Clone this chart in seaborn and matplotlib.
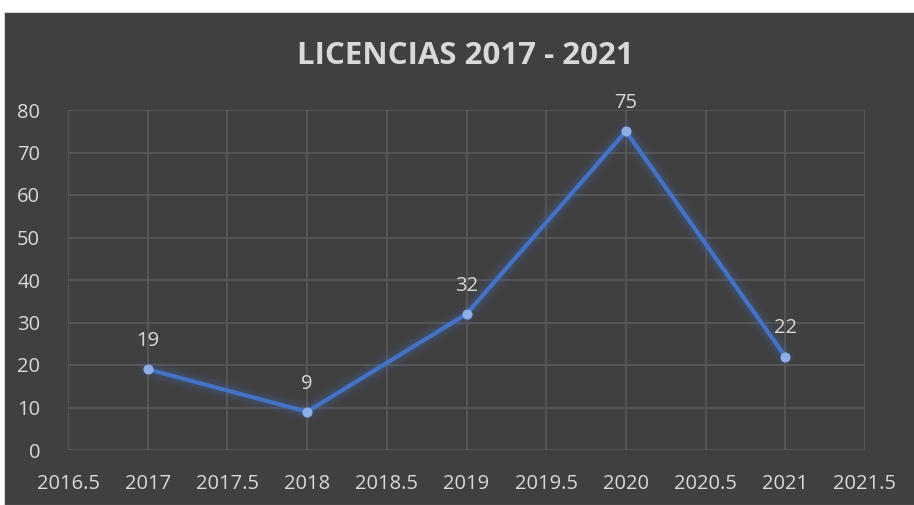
import matplotlib
matplotlib.use("Agg")
import matplotlib.pyplot as plt
import seaborn as sns
import pandas as pd
from matplotlib.patches import Rectangle

years = [2017, 2018, 2019, 2020, 2021]
licencias = [19, 9, 32, 75, 22]
x_ticks = [2016.5, 2017, 2017.5, 2018, 2018.5, 2019, 2019.5, 2020, 2020.5, 2021, 2021.5]
y_ticks = [0, 10, 20, 30, 40, 50, 60, 70, 80]
title = "LICENCIAS 2017 - 2021"

df = pd.DataFrame({"year": years, "licencias": licencias})

sns.set_theme(style="dark")
plt.rcParams["font.family"] = ["Open Sans", "DejaVu Sans"]

bg = "#404040"
txt = "#d9d9d9"
grid = "#5a5a5a"
blue = "#4472c4"

fig = plt.figure(figsize=(9.14, 5.05), dpi=100, facecolor="white")
fig.patches.append(Rectangle((4 / 914, 0), 1, (505 - 12) / 505, transform=fig.transFigure,
                             facecolor=bg, edgecolor="#d0d0d0", lw=0.8, zorder=-10))
ax = fig.add_axes([68 / 914, (505 - 450) / 505, (865 - 68) / 914, (450 - 110) / 505])
ax.set_facecolor(bg)

# glow
for lw, a in [(14, 0.06), (10, 0.08), (7, 0.12)]:
    ax.plot(df["year"], df["licencias"], color=blue, lw=lw, alpha=a, solid_capstyle="round", zorder=2)
sns.lineplot(data=df, x="year", y="licencias", ax=ax, color=blue, lw=3.0, zorder=3,
             marker="o", markersize=6.5, markerfacecolor="#8eaee6", markeredgecolor="#8eaee6")

for x, y in zip(years, licencias):
    ax.annotate(str(y), (x, y), xytext=(0, 13), textcoords="offset points",
                ha="center", va="bottom", color=txt, fontsize=14.5)

ax.set_xlim(2016.5, 2021.5)
ax.set_ylim(0, 80)
ax.set_xticks(x_ticks)
ax.set_xticklabels([f"{t:g}" for t in x_ticks])
ax.set_yticks(y_ticks)
ax.grid(True, color=grid, lw=1.2)
ax.tick_params(colors=txt, labelsize=14.5, length=0, pad=17)
ax.tick_params(axis="y", pad=20)
for s in ax.spines.values():
    s.set_visible(False)
ax.set_xlabel("")
ax.set_ylabel("")

fig.text(465 / 914, 1 - 56 / 505, title, ha="center", va="center", color=txt,
         fontsize=22.5, fontweight="bold")

fig.savefig("out.png", dpi=100, facecolor=fig.get_facecolor())
